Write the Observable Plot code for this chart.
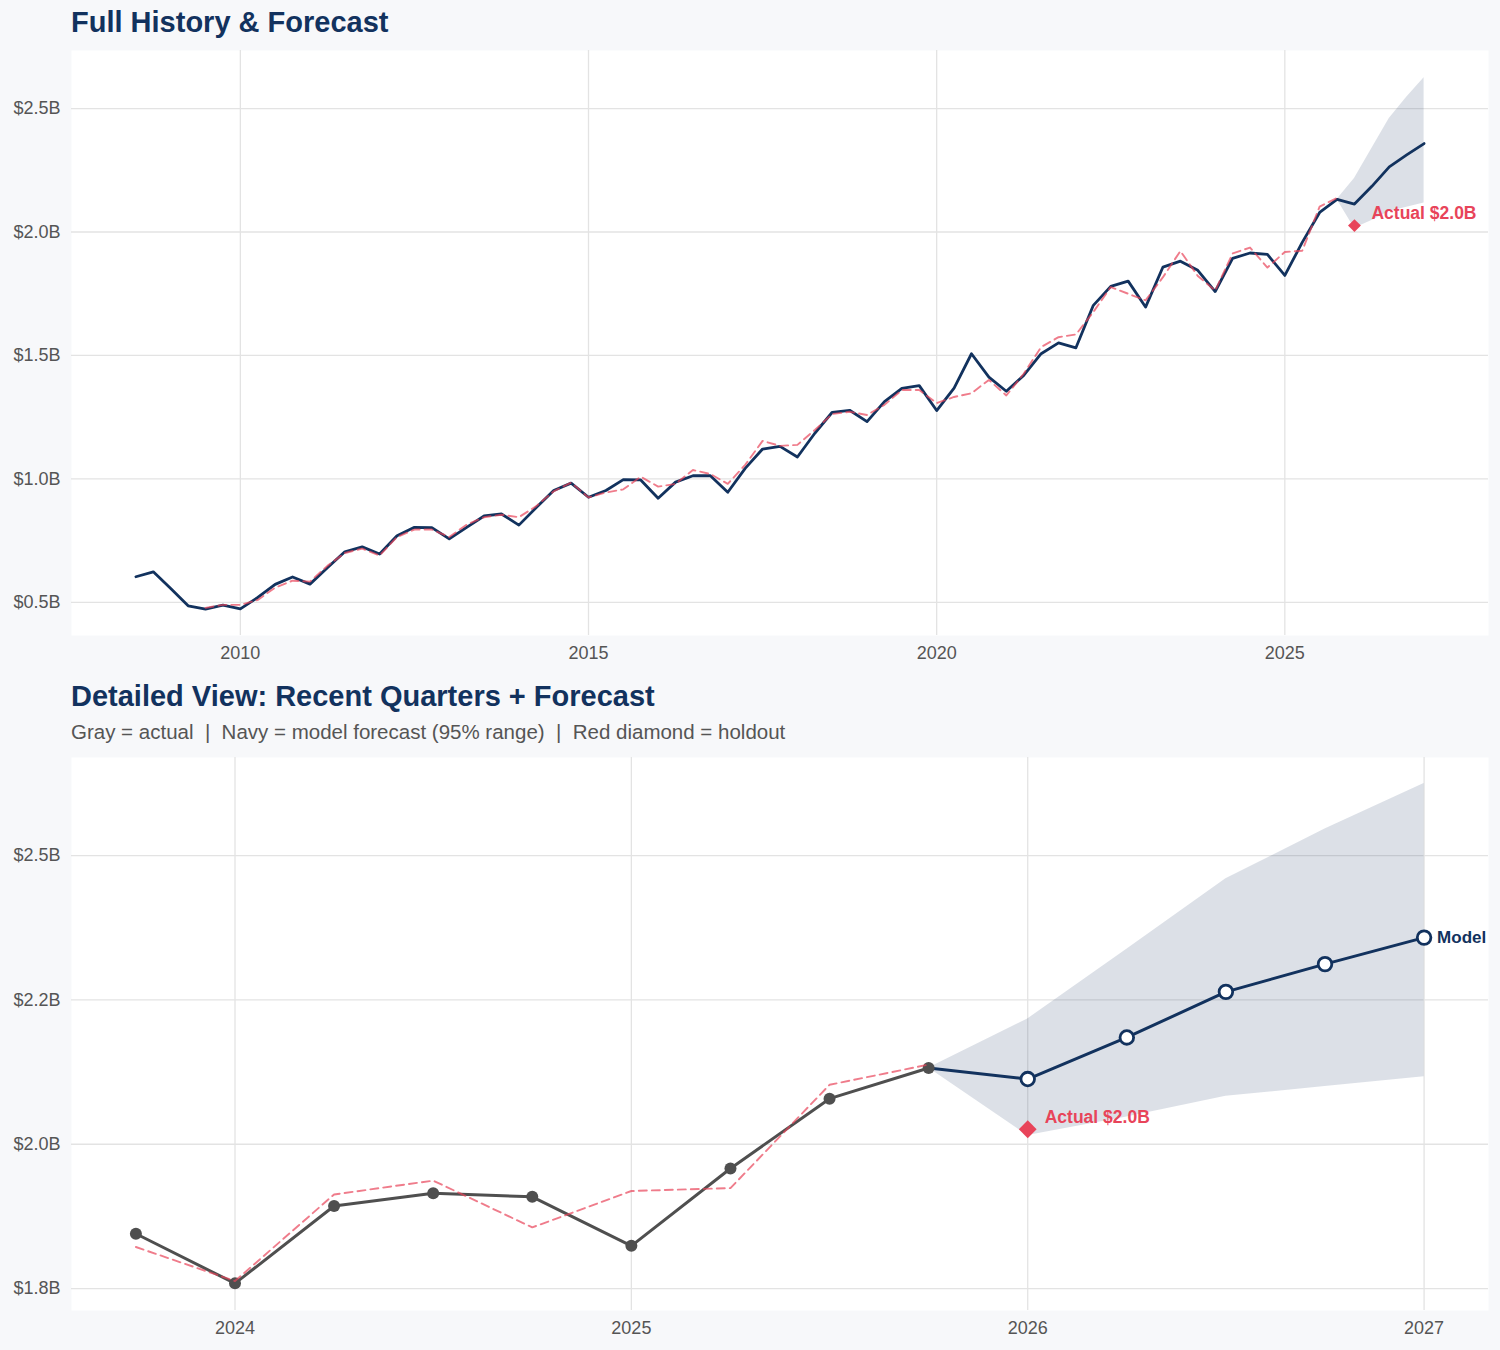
<!DOCTYPE html>
<html><head><meta charset="utf-8">
<script src="https://cdn.jsdelivr.net/npm/d3@7"></script>
<script src="https://cdn.jsdelivr.net/npm/@observablehq/plot@0.6"></script>
<style>
body{margin:0;background:#f7f8fa;width:1500px;height:1350px;position:relative;font-family:"Liberation Sans",Arial,Helvetica,sans-serif;overflow:hidden}
.title{position:absolute;left:71px;font-size:29px;line-height:29px;font-weight:bold;color:#12325e;white-space:nowrap}
.sub{position:absolute;left:71px;font-size:20.5px;line-height:20.5px;color:#555;white-space:pre}
#c1{position:absolute;left:0;top:45px}
#c2{position:absolute;left:0;top:750px}
</style></head><body>
<div class="title" style="top:8px">Full History &amp; Forecast</div>
<div id="c1"></div>
<div class="title" style="top:682px">Detailed View: Recent Quarters + Forecast</div>
<div class="sub" style="top:722px">Gray = actual  |  Navy = model forecast (95% range)  |  Red diamond = holdout</div>
<div id="c2"></div>
<script>
// ---- data (values in $B, quarters as fractional years) ----
const startQuarter = 2008.5;   // first actual quarter (Q3 2008)
const actual = [
  0.604, 0.624,
  0.556, 0.486, 0.473, 0.489,
  0.474, 0.520, 0.573, 0.603,
  0.574, 0.640, 0.705, 0.725,
  0.696, 0.770, 0.804, 0.803,
  0.757, 0.804, 0.850, 0.858,
  0.813, 0.884, 0.953, 0.983,
  0.926, 0.953, 0.997, 0.996,
  0.922, 0.987, 1.013, 1.013,
  0.946, 1.043, 1.121, 1.132,
  1.089, 1.185, 1.270, 1.278,
  1.232, 1.313, 1.367, 1.378,
  1.277, 1.368, 1.507, 1.412,
  1.355, 1.419, 1.507, 1.551,
  1.531, 1.703, 1.780, 1.801,
  1.696, 1.858, 1.882, 1.845,
  1.759, 1.893, 1.915, 1.909,
  1.824, 1.958, 2.079, 2.132
];
const fittedStart = 2009.5;
const fitted = [
  0.478, 0.490,
  0.490, 0.510, 0.560, 0.588,
  0.584, 0.648, 0.700, 0.718,
  0.690, 0.765, 0.795, 0.795,
  0.765, 0.815, 0.845, 0.855,
  0.845, 0.890, 0.950, 0.985,
  0.925, 0.945, 0.958, 1.009,
  0.969, 0.980, 1.036, 1.020,
  0.980, 1.057, 1.154, 1.134,
  1.138, 1.198, 1.263, 1.272,
  1.259, 1.300, 1.360, 1.360,
  1.307, 1.332, 1.347, 1.401,
  1.338, 1.426, 1.534, 1.574,
  1.585, 1.676, 1.777, 1.750,
  1.723, 1.817, 1.923, 1.822,
  1.763, 1.913, 1.937, 1.856,
  1.919, 1.924, 2.103, 2.138
];
const forecastQuarters = [2026.0, 2026.25, 2026.5, 2026.75, 2027.0];
const forecast = [2.113, 2.185, 2.264, 2.312, 2.358];
const bandQuarters = [2025.75, 2026.0, 2026.25, 2026.5, 2026.75, 2027.0];
const bandLow  = [2.132, 2.015, 2.047, 2.083, 2.100, 2.117];
const bandHigh = [2.132, 2.217, 2.338, 2.460, 2.546, 2.625];
const holdoutQuarter = 2026.0;
const holdout = 2.026;
const detailStart = 2023.75;

const topXTicks = [2010, 2015, 2020, 2025];
const topYTicks = [0.5, 1.0, 1.5, 2.0, 2.5];
const topYLabels = ["$0.5B", "$1.0B", "$1.5B", "$2.0B", "$2.5B"];
const botXTicks = [2024, 2025, 2026, 2027];
const botYTicks = [1.75, 2.0, 2.25, 2.5];
const botYLabels = ["$1.8B", "$2.0B", "$2.2B", "$2.5B"];

// ---- tables ----
const actualData = actual.map((v, i) => ({q: startQuarter + i * 0.25, v}));
const fittedData = fitted.map((v, i) => ({q: fittedStart + i * 0.25, v}));
const lastActual = actualData[actualData.length - 1];
const forecastData = forecastQuarters.map((q, i) => ({q, v: forecast[i]}));
const forecastLine = [lastActual, ...forecastData];
const bandData = bandQuarters.map((q, i) => ({q, lo: bandLow[i], hi: bandHigh[i]}));
const holdoutData = [{q: holdoutQuarter, v: holdout, label: "Actual $" + holdout.toFixed(1) + "B"}];

const navy = "#12325e", red = "#e8445a", gray = "#4f4f4f", gridColor = "#e3e3e3";
const font = '"Liberation Sans", Arial, Helvetica, sans-serif';
const baseStyle = {background: "transparent", fontFamily: font, fontSize: "18px", color: "#555", overflow: "visible"};

const topChart = Plot.plot({
  width: 1500, height: 620,
  marginLeft: 71, marginRight: 12, marginTop: 5, marginBottom: 30,
  style: baseStyle,
  x: {domain: [2007.575, 2027.925], label: null},
  y: {domain: [0.366, 2.735], label: null},
  marks: [
    Plot.frame({fill: "white", stroke: null}),
    Plot.gridY(topYTicks, {stroke: gridColor, strokeOpacity: 1, strokeWidth: 1.3}),
    Plot.gridX(topXTicks, {stroke: gridColor, strokeOpacity: 1, strokeWidth: 1.3}),
    Plot.axisY(topYTicks, {tickSize: 0, tickPadding: 11, tickFormat: d => topYLabels[topYTicks.indexOf(d)], label: null, fill: "#555"}),
    Plot.axisX(topXTicks, {tickSize: 0, tickPadding: 11, tickFormat: d => String(d), label: null, fill: "#555"}),
    Plot.areaY(bandData, {x: "q", y1: "lo", y2: "hi", fill: navy, fillOpacity: 0.15}),
    Plot.line(actualData, {x: "q", y: "v", stroke: navy, strokeWidth: 2.8}),
    Plot.line(forecastLine, {x: "q", y: "v", stroke: navy, strokeWidth: 2.8}),
    Plot.line(fittedData, {x: "q", y: "v", stroke: red, strokeOpacity: 0.7, strokeWidth: 1.9, strokeDasharray: "8,5"}),
    Plot.dot(holdoutData, {x: "q", y: "v", symbol: "diamond2", r: 5.8, fill: red, stroke: "none"}),
    Plot.text(holdoutData, {x: "q", y: "v", text: "label", dx: 17, dy: -12, textAnchor: "start", fill: red, fontWeight: "bold", fontSize: 17.5})
  ]
});
document.getElementById("c1").append(topChart);

const detailActual = actualData.filter(d => d.q >= detailStart);
const detailFitted = fittedData.filter(d => d.q >= detailStart);
const lastForecast = [forecastData[forecastData.length - 1]];

const bottomChart = Plot.plot({
  width: 1500, height: 600,
  marginLeft: 71, marginRight: 12, marginTop: 7, marginBottom: 40,
  style: baseStyle,
  x: {domain: [2023.5875, 2027.1625], label: null},
  y: {domain: [1.712, 2.670], label: null},
  marks: [
    Plot.frame({fill: "white", stroke: null}),
    Plot.gridY(botYTicks, {stroke: gridColor, strokeOpacity: 1, strokeWidth: 1.3}),
    Plot.gridX(botXTicks, {stroke: gridColor, strokeOpacity: 1, strokeWidth: 1.3}),
    Plot.axisY(botYTicks, {tickSize: 0, tickPadding: 11, tickFormat: d => botYLabels[botYTicks.indexOf(d)], label: null, fill: "#555"}),
    Plot.axisX(botXTicks, {tickSize: 0, tickPadding: 11, tickFormat: d => String(d), label: null, fill: "#555"}),
    Plot.areaY(bandData, {x: "q", y1: "lo", y2: "hi", fill: navy, fillOpacity: 0.15}),
    Plot.line(detailActual, {x: "q", y: "v", stroke: gray, strokeWidth: 3}),
    Plot.line(forecastLine, {x: "q", y: "v", stroke: navy, strokeWidth: 3}),
    Plot.dot(detailActual, {x: "q", y: "v", r: 6, fill: gray, stroke: "none"}),
    Plot.line(detailFitted, {x: "q", y: "v", stroke: red, strokeOpacity: 0.7, strokeWidth: 1.9, strokeDasharray: "8,5"}),
    Plot.dot(forecastData, {x: "q", y: "v", r: 6.8, fill: "white", stroke: navy, strokeWidth: 2.8}),
    Plot.dot(holdoutData, {x: "q", y: "v", symbol: "diamond2", r: 8, fill: red, stroke: "none"}),
    Plot.text(holdoutData, {x: "q", y: "v", text: "label", dx: 17, dy: -12, textAnchor: "start", fill: red, fontWeight: "bold", fontSize: 17.5}),
    Plot.text(lastForecast, {x: "q", y: "v", text: d => "Model", dx: 13, textAnchor: "start", fill: navy, fontWeight: "bold", fontSize: 17})
  ]
});
document.getElementById("c2").append(bottomChart);
</script>
</body></html>
